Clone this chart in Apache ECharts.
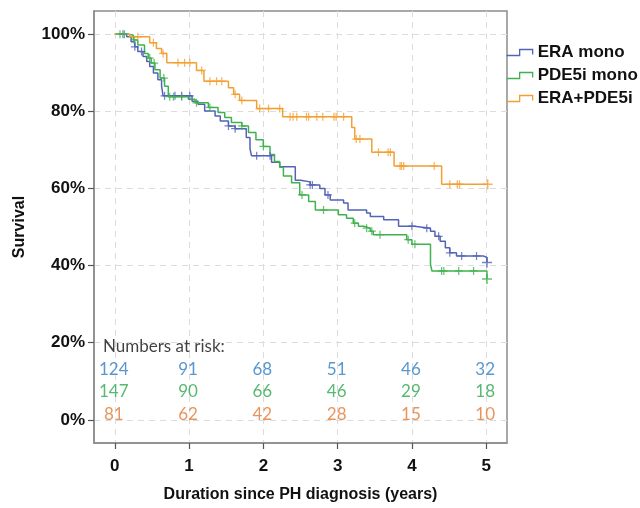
<!DOCTYPE html>
<html>
<head>
<meta charset="utf-8">
<script src="https://cdn.jsdelivr.net/npm/echarts@6/dist/echarts.min.js"></script>
<style>
html, body { margin: 0; padding: 0; background: #fff; }
#chart { width: 640px; height: 508px; }
</style>
</head>
<body>
<div id="chart"></div>
<script>
// axis ticks
const yearTicks = [0, 1, 2, 3, 4, 5];
const survTicks = [0, 20, 40, 60, 80, 100];

const seriesNames = ['ERA mono', 'PDE5i mono', 'ERA+PDE5i'];

// Kaplan-Meier steps: time (years) and survival (%) after each step
const eraTime = [0, 0.16, 0.22, 0.27, 0.31, 0.38, 0.43, 0.47, 0.52, 0.58, 0.63, 0.65, 1.04, 1.12, 1.21, 1.35, 1.42, 1.53, 1.62, 1.77, 1.82, 1.84, 2.11, 2.22, 2.43, 2.50, 2.63, 2.76, 2.83, 2.90, 3.08, 3.14, 3.39, 3.44, 3.62, 3.82, 4.03, 4.25, 4.31, 4.38, 4.45, 4.51, 4.60, 4.96, 5.01];
const eraSurv = [100, 99.3, 98.0, 96.7, 95.5, 94.2, 92.9, 91.6, 89.9, 88.2, 86.5, 84.0, 82.6, 81.8, 80.1, 78.8, 77.5, 76.2, 75.5, 73.2, 70.3, 68.5, 66.8, 65.6, 62.1, 61.7, 60.9, 60.0, 58.3, 57.0, 56.2, 54.4, 53.6, 52.7, 51.9, 50.2, 49.7, 48.9, 47.6, 46.3, 44.6, 43.3, 42.5, 42.1, 40.8];
const eraCensor = [0.11, 0.27, 0.36, 0.67, 0.81, 0.90, 1.01, 1.53, 1.62, 1.91, 2.09, 2.63, 2.66, 2.87, 4.00, 4.20, 4.36, 4.51, 4.67, 4.87, 5.01];

const pdeTime = [0, 0.18, 0.25, 0.31, 0.40, 0.45, 0.49, 0.54, 0.61, 0.67, 0.72, 0.99, 1.08, 1.26, 1.39, 1.48, 1.57, 1.71, 1.80, 1.90, 2.00, 2.09, 2.15, 2.22, 2.27, 2.38, 2.49, 2.61, 2.70, 3.01, 3.12, 3.21, 3.28, 3.35, 3.44, 3.48, 3.93, 4.00, 4.25, 4.27, 5.01];
const pdeSurv = [100, 99.7, 98.5, 97.2, 95.0, 93.8, 92.5, 90.8, 88.6, 86.5, 83.8, 83.1, 82.2, 81.0, 79.7, 78.4, 77.1, 76.2, 74.5, 72.6, 70.9, 68.8, 67.0, 65.5, 63.2, 61.5, 58.3, 56.6, 54.4, 53.2, 52.3, 51.0, 50.2, 49.7, 48.9, 48.0, 46.7, 45.5, 40.3, 38.6, 36.5];
const pdeCensor = [0.07, 0.13, 0.26, 0.47, 0.53, 0.66, 0.74, 0.79, 0.90, 1.10, 1.28, 1.71, 2.00, 2.52, 2.81, 3.23, 3.39, 3.46, 3.57, 3.95, 4.04, 4.40, 4.43, 4.63, 4.83, 5.01];

const comboTime = [0, 0.20, 0.47, 0.56, 0.63, 0.70, 1.10, 1.20, 1.53, 1.60, 1.68, 1.91, 2.26, 3.19, 3.23, 3.46, 3.76, 4.40, 5.02];
const comboSurv = [100, 99.3, 97.8, 96.3, 95.0, 92.6, 90.6, 87.8, 86.1, 84.4, 82.8, 80.7, 78.6, 75.8, 72.8, 69.4, 65.8, 61.1, 61.1];
const comboCensor = [0.31, 0.52, 0.65, 0.85, 0.94, 1.01, 1.17, 1.28, 1.37, 1.44, 1.62, 1.71, 1.95, 2.07, 2.22, 2.36, 2.40, 2.45, 2.58, 2.61, 2.72, 2.80, 2.95, 2.98, 3.08, 3.25, 3.30, 3.55, 3.68, 3.71, 3.84, 3.86, 3.89, 4.30, 4.51, 4.61, 4.64, 5.02];

// numbers at risk at each year
const riskEra = [124, 91, 68, 51, 46, 32];
const riskPde = [147, 90, 66, 46, 29, 18];
const riskCombo = [81, 62, 42, 28, 15, 10];

const lineColors = ['#5263b8', '#3fb24f', '#f2a033'];
const riskColors = ['#2f7dc0', '#2ea84e', '#e27b34'];
const riskRows = [13.0, 7.4, 1.4];

const crossIcon = 'path://M3.8,0h1.4v9h-1.4z M0,3.8h9v1.4h-9z';
const stepIcon = 'path://M0,6 H13 V0 H26 V5';

function stepAt(times, surv, t) {
    let s = surv[0];
    for (let i = 0; i < times.length; i++) {
        if (times[i] <= t + 1e-9) s = surv[i];
    }
    return s;
}

const curves = [
    [eraTime, eraSurv, eraCensor],
    [pdeTime, pdeSurv, pdeCensor],
    [comboTime, comboSurv, comboCensor]
];
const risks = [riskEra, riskPde, riskCombo];

const series = [];
curves.forEach(([times, surv, cens], k) => {
    series.push({
        name: seriesNames[k],
        type: 'line',
        step: 'end',
        symbol: 'none',
        z: 3,
        data: times.map((t, i) => [t, surv[i]]),
        lineStyle: {color: lineColors[k], width: 1.5},
        itemStyle: {color: lineColors[k]}
    });
});
curves.forEach(([times, surv, cens], k) => {
    series.push({
        name: seriesNames[k] + ' censored',
        type: 'scatter',
        symbol: crossIcon,
        z: 4,
        data: cens.map((t, i) => ({
            value: [t, stepAt(times, surv, t)],
            symbolSize: i === cens.length - 1 ? 10 : 8
        })),
        itemStyle: {color: lineColors[k]}
    });
});
risks.forEach((row, k) => {
    series.push({
        name: 'risk' + k,
        type: 'scatter',
        symbolSize: 0,
        silent: true,
        data: yearTicks.map((yr, i) => [yr, riskRows[k], row[i]]),
        itemStyle: {color: 'transparent'},
        label: {
            show: true,
            position: 'inside',
            offset: [-1, 0],
            formatter: p => p.value[2],
            color: riskColors[k],
            fontFamily: 'Lato',
            fontSize: 17
        }
    });
});
series.push({
    name: 'riskTitle',
    type: 'scatter',
    symbolSize: 0,
    silent: true,
    data: [[-0.16, 18.9]],
    itemStyle: {color: 'transparent'},
    label: {
        show: true,
        position: [0, 0],
        align: 'left',
        verticalAlign: 'middle',
        formatter: 'Numbers at risk:',
        color: '#111',
        fontFamily: 'Lato',
        fontSize: 17
    }
});

const chart = echarts.init(document.getElementById('chart'));
chart.setOption({
    animation: false,
    backgroundColor: '#fff',
    grid: {
        left: 94, top: 11, width: 413, height: 436,
        show: true, borderColor: '#8c8c8c', borderWidth: 1.5
    },
    legend: {
        left: 506, top: 44,
        padding: 0,
        orient: 'vertical',
        itemWidth: 26, itemHeight: 6, itemGap: 6,
        textStyle: {fontFamily: 'Liberation Sans', fontWeight: 'bold', fontSize: 17, color: '#111'},
        data: seriesNames.map((n, k) => ({
            name: n,
            icon: stepIcon,
            itemStyle: {color: 'transparent', borderColor: lineColors[k], borderWidth: 1.3}
        }))
    },
    xAxis: {
        type: 'value',
        min: -0.28, max: 5.28,
        name: 'Duration since PH diagnosis (years)',
        nameLocation: 'middle',
        nameGap: 44,
        nameTextStyle: {fontFamily: 'Liberation Sans', fontWeight: 'bold', fontSize: 16, color: '#111'},
        axisLine: {show: true, onZero: false, lineStyle: {color: '#8c8c8c', width: 1.5}},
        axisTick: {show: true, inside: false, length: 6, customValues: yearTicks, lineStyle: {color: '#555', width: 1.2}},
        axisLabel: {customValues: yearTicks, margin: 15, fontFamily: 'Liberation Sans', fontWeight: 'bold', fontSize: 17, color: '#111'},
        splitLine: {show: true, lineStyle: {color: '#dcdcdc', type: [6, 5], width: 1}}
    },
    yAxis: {
        type: 'value',
        min: -6, max: 106,
        splitNumber: 5,
        name: 'Survival',
        nameLocation: 'middle',
        nameGap: 66,
        nameTextStyle: {fontFamily: 'Liberation Sans', fontWeight: 'bold', fontSize: 16, color: '#111'},
        axisLine: {show: true, onZero: false, lineStyle: {color: '#8c8c8c', width: 1.5}},
        axisTick: {show: true, inside: false, length: 6, customValues: survTicks, lineStyle: {color: '#555', width: 1.2}},
        axisLabel: {customValues: survTicks, margin: 9, formatter: '{value}%', fontFamily: 'Liberation Sans', fontWeight: 'bold', fontSize: 17, color: '#111'},
        splitLine: {show: true, lineStyle: {color: '#dcdcdc', type: [6, 5], width: 1}}
    },
    series: series
});
</script>
</body>
</html>
